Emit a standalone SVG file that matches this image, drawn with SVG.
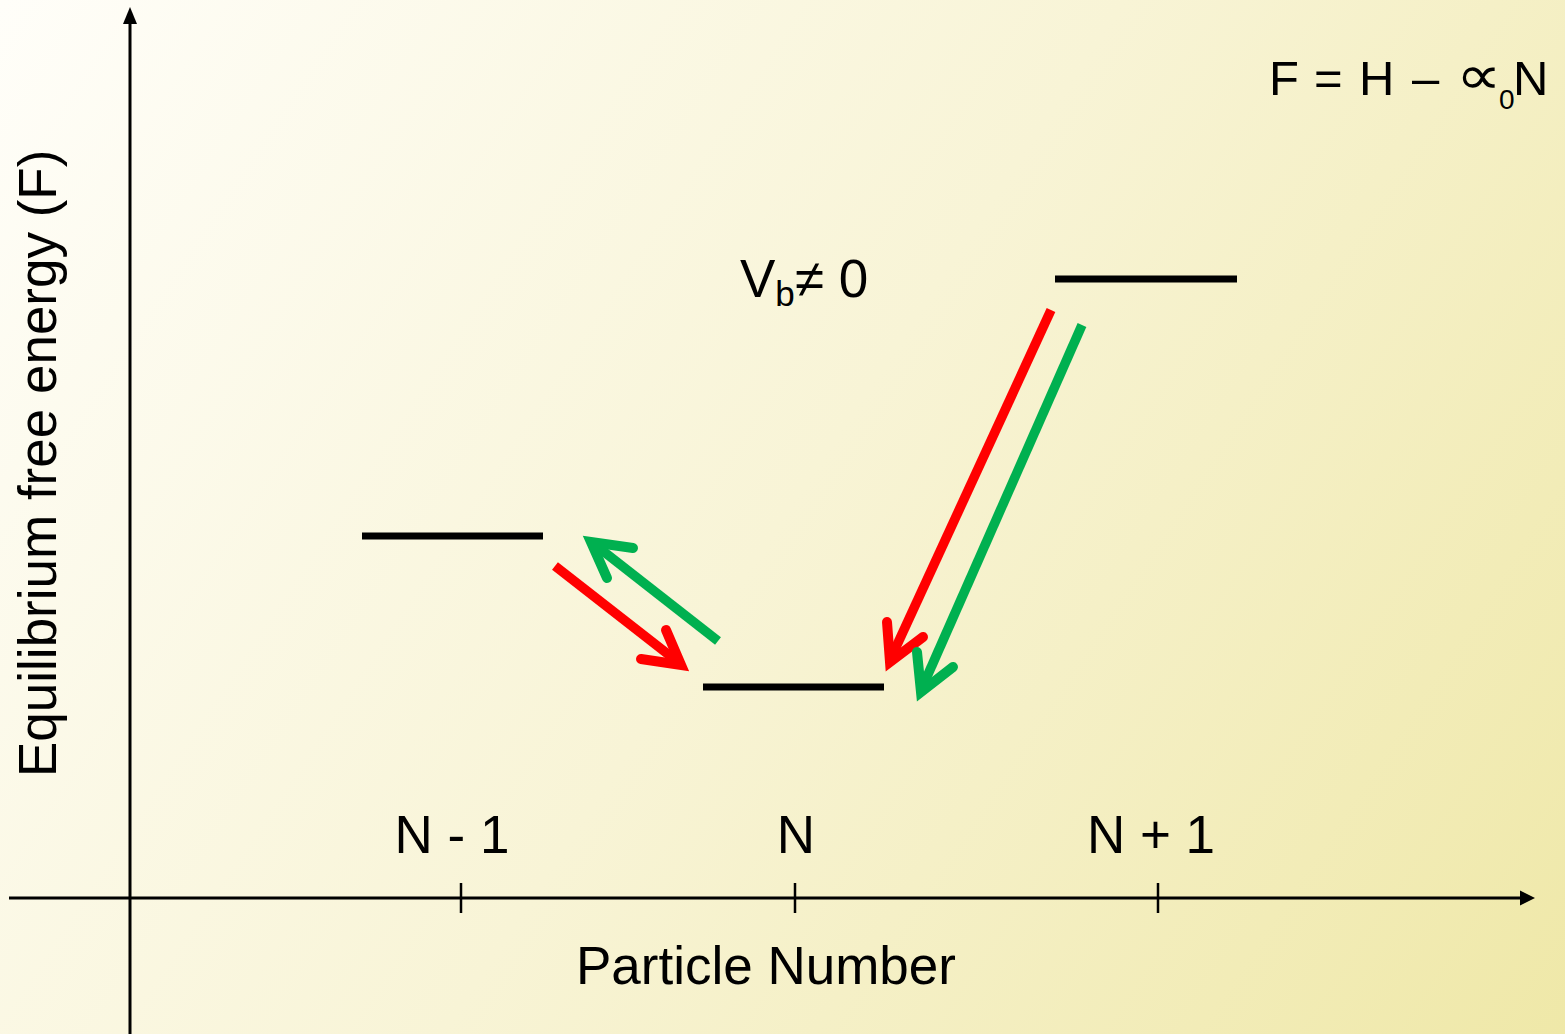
<svg xmlns="http://www.w3.org/2000/svg" width="1565" height="1034" viewBox="0 0 1565 1034">
  <defs>
    <linearGradient id="bg" gradientUnits="userSpaceOnUse" x1="0" y1="0" x2="1565" y2="1034">
      <stop offset="0" stop-color="#FFFEF9"/>
      <stop offset="0.5" stop-color="#F8F4D6"/>
      <stop offset="1" stop-color="#EFE8A8"/>
    </linearGradient>
    <style>
      .txt { font-family: "Liberation Sans", Arial, "DejaVu Sans", sans-serif; fill: #000; }
      .axis { stroke: #000; stroke-width: 3; fill: none; }
      .tick { stroke: #000; stroke-width: 2.5; }
      .level { stroke: #000; stroke-width: 7; }
      .shaft { stroke-width: 9.5; stroke-linecap: butt; fill: none; }
      .head { stroke-width: 10; stroke-linecap: round; stroke-linejoin: miter; stroke-miterlimit: 10; fill: none; }
      .red { stroke: #FF0000; }
      .green { stroke: #00B050; }
    </style>
  </defs>
  <rect x="0" y="0" width="1565" height="1034" fill="url(#bg)"/>

  <g id="axes">
    <line class="axis" x1="130" y1="1034" x2="130" y2="22"/>
    <polygon points="130,7 123,24 137,24" fill="#000"/>
    <line class="axis" x1="9" y1="898" x2="1522" y2="898"/>
    <polygon points="1535,898 1520,890.5 1520,905.5" fill="#000"/>
    <line class="tick" x1="461" y1="883" x2="461" y2="913"/>
    <line class="tick" x1="795" y1="883" x2="795" y2="913"/>
    <line class="tick" x1="1158" y1="883" x2="1158" y2="913"/>
  </g>

  <g id="axis-labels">
    <text class="txt" font-size="53" transform="translate(56,777) rotate(-90)">Equilibrium free energy (F)</text>
    <text class="txt" font-size="53" x="766" y="984" text-anchor="middle">Particle Number</text>
    <text class="txt" font-size="53" x="452" y="853" text-anchor="middle">N - 1</text>
    <text class="txt" font-size="53" x="796" y="853" text-anchor="middle">N</text>
    <text class="txt" font-size="53" x="1151" y="853" text-anchor="middle">N + 1</text>
  </g>

  <g id="formula">
    <text class="txt" font-size="49" y="95"><tspan x="1269">F</tspan><tspan x="1314">=</tspan><tspan x="1359">H</tspan><tspan x="1412">–</tspan></text>
    <text class="txt" font-size="49" transform="translate(1456,94) scale(1.3,1.12)">∝</text>
    <text class="txt" font-size="28" x="1499" y="109">0</text>
    <text class="txt" font-size="49" x="1513" y="95">N</text>
  </g>

  <g id="vb-label">
    <text class="txt" font-size="53" x="740" y="297">V<tspan font-size="35" dy="9">b</tspan><tspan dy="-9">≠ 0</tspan></text>
  </g>

  <g id="level-n-minus-1"><line class="level" x1="362" y1="536" x2="543" y2="536"/></g>
  <g id="level-n"><line class="level" x1="703" y1="687" x2="884" y2="687"/></g>
  <g id="level-n-plus-1"><line class="level" x1="1055" y1="279" x2="1237" y2="279"/></g>

  <g id="connectors">
    <line class="shaft red" x1="555" y1="566" x2="678" y2="662"/>
    <path class="head red" d="M666,630 L681,665 L641,659"/>

    <line class="shaft green" x1="718" y1="641" x2="594" y2="544"/>
    <path class="head green" d="M633,548 L591,542 L607,578"/>

    <line class="shaft red" x1="1051" y1="310" x2="891" y2="658"/>
    <path class="head red" d="M887,622 L890,662 L923,637"/>

    <line class="shaft green" x1="1082" y1="325" x2="922" y2="688"/>
    <path class="head green" d="M917,652 L921,692 L953,667"/>
  </g>
</svg>
